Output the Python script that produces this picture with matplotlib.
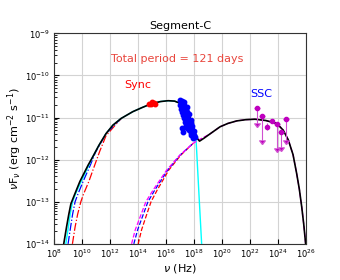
import numpy as np
import matplotlib
matplotlib.use('Agg')
import matplotlib.pyplot as plt
from matplotlib.ticker import NullLocator, FixedLocator

# all values are log10(nu / Hz), log10(nuFnu / erg cm^-2 s^-1)

# total model (black)
tot_nu = [8.69, 8.89, 9.05, 9.2, 9.45, 9.84, 10.43, 10.7, 11.2, 11.71, 12.2, 12.79, 13.62,
          14.3, 14.96, 15.6, 16.14, 16.6, 16.98, 17.26, 17.46, 17.7, 17.93, 18.12, 18.25,
          18.38, 18.7, 19.12, 19.84, 20.4, 21.03, 21.7, 22.34, 23.1, 23.89, 24.35, 24.71,
          25.05, 25.31, 25.5, 25.67, 25.82, 25.95]
tot_f = [-14.0, -13.6, -13.3, -13.05, -12.84, -12.52, -12.13, -11.97, -11.66, -11.38, -11.18,
         -11.02, -10.86, -10.76, -10.67, -10.62, -10.6, -10.61, -10.66, -10.73, -10.82, -11.0,
         -11.22, -11.42, -11.51, -11.56, -11.49, -11.39, -11.22, -11.14, -11.08, -11.05,
         -11.04, -11.07, -11.14, -11.3, -11.53, -11.88, -12.33, -12.7, -13.12, -13.55, -14.0]

# synchrotron component (cyan)
syn_nu = [8.84, 9.02, 9.15, 9.32, 9.55, 9.96, 10.5, 10.7, 11.2, 11.71, 12.2, 12.79, 13.62,
          14.3, 14.96, 15.6, 16.14, 16.6, 16.98, 17.26, 17.46, 17.7, 17.93, 18.12, 18.2,
          18.3, 18.4, 18.53]
syn_f = [-14.0, -13.6, -13.3, -13.0, -12.8, -12.5, -12.12, -11.97, -11.66, -11.38, -11.18,
         -11.02, -10.86, -10.76, -10.67, -10.62, -10.6, -10.61, -10.66, -10.73, -10.82, -11.0,
         -11.22, -11.45, -11.95, -12.58, -13.2, -14.0]

# synchrotron variants (dash-dot)
syn_b_nu = [9.0, 9.18, 9.32, 9.5, 9.7, 10.07, 10.6, 10.95, 11.71, 12.79]
syn_b_f = [-14.0, -13.6, -13.3, -13.0, -12.82, -12.52, -12.12, -11.83, -11.38, -11.02]
syn_r_nu = [9.31, 9.5, 9.68, 9.91, 10.1, 10.48, 10.9, 11.26, 11.71, 12.79]
syn_r_f = [-14.0, -13.6, -13.3, -13.0, -12.82, -12.52, -12.13, -11.8, -11.43, -11.02]

# SSC component (magenta) and variants (dashed)
ssc_nu = [13.53, 13.8, 14.14, 14.55, 15.07, 16.03, 16.98, 17.93, 18.5, 19.12, 19.84, 20.4,
          21.03, 21.7, 22.34, 23.1, 23.89, 24.35, 24.71, 25.05, 25.31, 25.5, 25.67, 25.82,
          25.95]
ssc_f = [-14.0, -13.66, -13.36, -13.0, -12.72, -12.25, -11.89, -11.61, -11.5, -11.39, -11.22,
         -11.14, -11.08, -11.05, -11.04, -11.07, -11.14, -11.3, -11.53, -11.88, -12.33, -12.7,
         -13.12, -13.55, -14.0]
ssc_b_nu = [13.69, 13.97, 14.3, 14.7, 15.19, 16.1, 17.0, 17.93]
ssc_b_f = [-14.0, -13.66, -13.36, -13.0, -12.72, -12.25, -11.89, -11.61]
ssc_r_nu = [14.0, 14.25, 14.55, 14.92, 15.36, 16.18, 17.05, 17.93]
ssc_r_f = [-14.0, -13.66, -13.36, -13.0, -12.72, -12.25, -11.89, -11.61]

# optical (red)
opt_nu = [14.75, 14.9, 15.0, 15.1, 15.2]
opt_f = [-10.68, -10.67, -10.64, -10.66, -10.67]

# X-ray (blue)
xr_nu = [17.0, 17.15, 17.25, 17.05, 16.98, 17.12, 17.3, 17.45, 17.2, 17.05, 17.38, 17.15,
         17.3, 17.5, 17.62, 17.4, 17.2, 17.28, 17.45, 17.6, 17.75, 17.35, 17.55, 17.8, 17.42,
         17.62, 17.85, 17.7, 17.5, 17.1, 17.65, 17.85, 17.98, 17.75, 17.21, 17.8, 17.95,
         18.05, 17.9]
xr_f = [-10.58, -10.6, -10.63, -10.65, -10.7, -10.72, -10.7, -10.76, -10.78, -10.8, -10.82,
        -10.86, -10.88, -10.86, -10.92, -10.95, -10.94, -11.0, -11.02, -11.05, -11.06, -11.1,
        -11.12, -11.12, -11.17, -11.18, -11.2, -11.23, -11.24, -11.26, -11.3, -11.3, -11.33,
        -11.36, -11.34, -11.42, -11.42, -11.46, -11.48]

# gamma-ray (magenta): upper limits and detections
ul_nu = [22.5, 22.83, 23.89, 24.22, 24.58]
ul_f = [-10.78, -10.96, -11.16, -11.34, -11.03]
ul_low = [-11.14, -11.53, -11.73, -11.69, -11.53]
det_nu = [23.19, 23.55]
det_f = [-11.22, -11.08]
det_err = [0.08, 0.05]


def p(a):
    return 10.0 ** np.array(a)


fig = plt.figure(figsize=(3.4, 2.8), dpi=100)
ax = fig.add_axes([0.159, 0.129, 0.742, 0.752])

ax.plot(p(syn_r_nu), p(syn_r_f), '-.', color='red', lw=0.9, zorder=2)
ax.plot(p(syn_b_nu), p(syn_b_f), '-.', color='blue', lw=0.9, zorder=2)
ax.plot(p(syn_nu), p(syn_f), '-', color='cyan', lw=1.0, zorder=3)
ax.plot(p(ssc_r_nu), p(ssc_r_f), '--', color='red', lw=0.9, zorder=2)
ax.plot(p(ssc_b_nu), p(ssc_b_f), '--', color='blue', lw=0.9, zorder=2)
ax.plot(p(ssc_nu), p(ssc_f), '--', color='magenta', lw=0.9, zorder=3)
ax.plot(p(tot_nu), p(tot_f), '-', color='black', lw=1.2, zorder=4)

ax.plot(p(opt_nu), p(opt_f), 'o', color='red', ms=3.2, zorder=5)
ax.plot(p(xr_nu), p(xr_f), 'o', color='blue', ms=3.2, zorder=5)

ulf = p(ul_f)
ax.errorbar(p(ul_nu), ulf, yerr=ulf - p(ul_low), uplims=True, fmt='o', color='m',
            ecolor='#d050d0', ms=3, elinewidth=0.8, capsize=2, zorder=5)
detf = p(det_f)
ax.errorbar(p(det_nu), detf,
            yerr=[detf - p(np.array(det_f) - det_err), p(np.array(det_f) + det_err) - detf],
            fmt='o', color='m', ecolor='#d050d0', ms=3, elinewidth=0.8, capsize=0, zorder=5)

ax.set_xscale('log')
ax.set_yscale('log')
ax.set_xlim(1e8, 1e26)
ax.set_ylim(1e-14, 1e-9)
ax.xaxis.set_major_locator(FixedLocator([10.0 ** k for k in range(8, 27, 2)]))
ax.xaxis.set_minor_locator(NullLocator())
ax.grid(True, which='major', color='#d3d3d3', lw=0.8)
ax.set_axisbelow(True)
ax.tick_params(which='both', direction='in', labelsize=6, pad=3)
for s in ax.spines.values():
    s.set_linewidth(0.8)
    s.set_color('#333333')

ax.set_title('Segment-C', fontsize=8, pad=3)
ax.set_xlabel(r'$\nu$ (Hz)', fontsize=8, labelpad=1)
ax.set_ylabel(r'$\nu$F$_\nu$ (erg cm$^{-2}$ s$^{-1}$)', fontsize=8, labelpad=1)

ax.text(10 ** 16.78, 10 ** -9.61, 'Total period = 121 days', color='#e8453c', fontsize=8,
        ha='center', va='center')
ax.text(10 ** 13.94, 10 ** -10.23, 'Sync', color='red', fontsize=8, ha='center', va='center')
ax.text(10 ** 22.76, 10 ** -10.44, 'SSC', color='blue', fontsize=8, ha='center', va='center')

fig.savefig('out.png', dpi=100)
